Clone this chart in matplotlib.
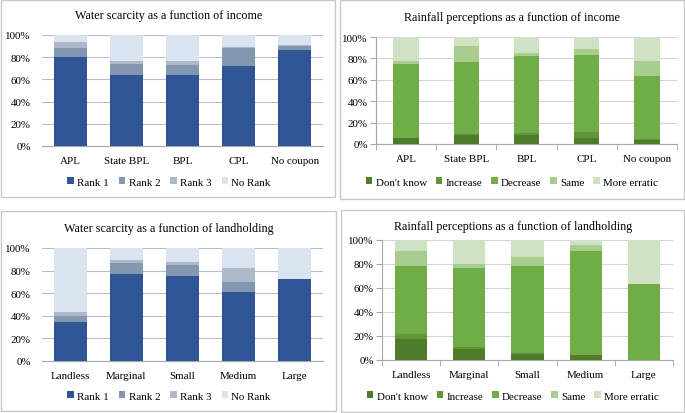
import matplotlib
matplotlib.use("Agg")
import matplotlib.pyplot as plt
from matplotlib.patches import Rectangle, Patch
import numpy as np

plt.rcParams['font.family'] = ['Liberation Serif', 'DejaVu Serif']

W, H = 685, 414

income_cats = ["APL", "State BPL", "BPL", "CPL", "No coupon"]
land_cats = ["Landless", "Marginal", "Small", "Medium", "Large"]

rank_labels = ["Rank 1", "Rank 2", "Rank 3", "No Rank"]
rank_colors = ["#2F5597", "#8497B0", "#ADB9CA", "#DAE3F0"]

rain_labels = ["Don't know", "Increase", "Decrease", "Same", "More erratic"]
rain_colors = ["#4F7B2C", "#5F9637", "#70AD47", "#A9CC8F", "#CFE3C4"]

# Water scarcity by income (%), per rank
ws_inc_rank1 = [80.5, 64.0, 64.0, 72.2, 86.2]
ws_inc_rank2 = [8.0, 9.7, 9.4, 16.4, 4.2]
ws_inc_rank3 = [5.5, 2.6, 3.2, 0.6, 0.6]
ws_inc_norank = [6.0, 23.7, 23.4, 10.8, 9.0]

# Rainfall perceptions by income (%)
rf_inc_dk = [5.3, 8.7, 8.4, 5.6, 4.0]
rf_inc_inc = [0.3, 0.3, 1.6, 5.3, 0.3]
rf_inc_dec = [69.6, 67.7, 72.6, 72.6, 59.4]
rf_inc_same = [2.4, 14.6, 2.8, 5.6, 13.9]
rf_inc_err = [22.4, 8.7, 14.6, 10.9, 22.4]

# Water scarcity by landholding (%)
ws_land_rank1 = [34.9, 76.8, 75.4, 61.0, 72.7]
ws_land_rank2 = [4.7, 10.3, 9.6, 8.8, 0.0]
ws_land_rank3 = [4.1, 2.6, 2.4, 12.9, 0.0]
ws_land_norank = [56.3, 10.3, 12.6, 17.3, 27.3]

# Rainfall perceptions by landholding (%)
rf_land_dk = [17.4, 9.1, 5.2, 4.1, 0.0]
rf_land_inc = [4.4, 1.4, 0.3, 0.3, 0.0]
rf_land_dec = [56.4, 66.3, 73.2, 86.5, 63.5]
rf_land_same = [13.0, 3.6, 7.2, 5.0, 0.0]
rf_land_err = [8.8, 19.6, 14.1, 4.1, 36.5]

fig = plt.figure(figsize=(W / 100, H / 100), dpi=100)

TICK_FS = 7.9
LEG_FS = 7.9
TITLE_FS = 8.7

def px_axes(x0, x1, y_top, y_bot):
    return fig.add_axes([x0 / W, 1 - y_bot / H, (x1 - x0) / W, (y_bot - y_top) / H])

def panel_border(x0, y0, x1, y1):
    fig.patches.append(Rectangle((x0 / W, 1 - y1 / H), (x1 - x0) / W, (y1 - y0) / H,
                                 transform=fig.transFigure, fill=False,
                                 edgecolor="#C8C8C8", linewidth=1.0))

def draw(ax, cats, series, colors, labels, width, title, title_y, legend_y,
         right_style, colsp, cx_px):
    x = np.arange(len(cats))
    bottom = np.zeros(len(cats))
    for vals, c in zip(series, colors):
        v = np.array(vals)
        ax.bar(x, v, width, bottom=bottom, color=c, zorder=3, linewidth=0)
        bottom += v
    ax.set_ylim(0, 100)
    ax.set_xlim(-0.5, len(cats) - 0.5)
    ax.set_yticks([0, 20, 40, 60, 80, 100])
    ax.set_yticklabels([f"{v}%" for v in [0, 20, 40, 60, 80, 100]], fontsize=TICK_FS)
    ax.set_xticks(x)
    ax.set_xticklabels(cats, fontsize=TICK_FS)
    for s in ["top", "right"]:
        ax.spines[s].set_visible(False)
    if right_style:
        gcol = "#D4D4D4"
        ax.spines["left"].set_color("#A6A6A6")
        ax.spines["bottom"].set_color("#A6A6A6")
        ax.tick_params(axis="y", length=4, color="#A6A6A6", pad=2)
        ax.tick_params(axis="x", length=0, pad=7)
        ax.set_xticks(np.arange(len(cats) + 1) - 0.5, minor=True)
        ax.tick_params(axis="x", which="minor", length=4, color="#A6A6A6")
    else:
        gcol = "#B7BECC"
        ax.spines["left"].set_visible(False)
        ax.spines["bottom"].set_color("#A6A6A6")
        ax.tick_params(axis="y", length=0, pad=8)
        ax.tick_params(axis="x", length=0, pad=7)
    ax.yaxis.grid(True, color=gcol, linewidth=0.8, zorder=0)
    ax.set_axisbelow(True)
    ax.set_facecolor("white")
    cx = cx_px / W
    fig.text(cx, 1 - title_y / H, title, ha="center", va="center", fontsize=TITLE_FS)
    handles = [Patch(facecolor=c, edgecolor="none") for c in colors]
    fig.legend(handles, labels, loc="center", bbox_to_anchor=(cx, 1 - legend_y / H),
               ncol=len(labels), frameon=False, fontsize=LEG_FS, handlelength=0.6,
               handleheight=0.6, handletextpad=0.3, columnspacing=colsp, borderpad=0)

# panel borders
panel_border(1, 1, 335, 198)
panel_border(340, 1, 684, 200)
panel_border(1, 212, 336, 412)
panel_border(341, 211, 684, 413)

ax1 = px_axes(42, 323, 36, 147)
draw(ax1, income_cats, [ws_inc_rank1, ws_inc_rank2, ws_inc_rank3, ws_inc_norank],
     rank_colors, rank_labels, 0.59, "Water scarcity as a function of income", 16, 183,
     False, 0.9, 169)

ax2 = px_axes(376, 677, 38, 145)
draw(ax2, income_cats, [rf_inc_dk, rf_inc_inc, rf_inc_dec, rf_inc_same, rf_inc_err],
     rain_colors, rain_labels, 0.42, "Rainfall perceptions as a function of income", 18, 183,
     True, 0.8, 512)

ax3 = px_axes(42, 323, 249, 362)
draw(ax3, land_cats, [ws_land_rank1, ws_land_rank2, ws_land_rank3, ws_land_norank],
     rank_colors, rank_labels, 0.59, "Water scarcity as a function of landholding", 229, 397,
     False, 0.9, 169)

ax4 = px_axes(382, 673, 241, 361)
draw(ax4, land_cats, [rf_land_dk, rf_land_inc, rf_land_dec, rf_land_same, rf_land_err],
     rain_colors, rain_labels, 0.55, "Rainfall perceptions as a function of landholding", 227, 397,
     True, 0.8, 513)

fig.savefig("out.png", dpi=100, facecolor="white")
